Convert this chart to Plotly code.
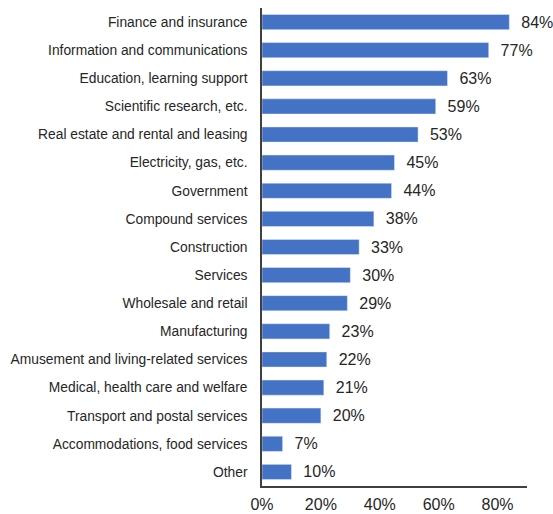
import plotly.graph_objects as go

categories = [
    "Finance and insurance",
    "Information and communications",
    "Education, learning support",
    "Scientific research, etc.",
    "Real estate and rental and leasing",
    "Electricity, gas, etc.",
    "Government",
    "Compound services",
    "Construction",
    "Services",
    "Wholesale and retail",
    "Manufacturing",
    "Amusement and living-related services",
    "Medical, health care and welfare",
    "Transport and postal services",
    "Accommodations, food services",
    "Other",
]
values = [84, 77, 63, 59, 53, 45, 44, 38, 33, 30, 29, 23, 22, 21, 20, 7, 10]
tick_vals = [0, 20, 40, 60, 80]
tick_text = ["0%", "20%", "40%", "60%", "80%"]

fig = go.Figure(
    go.Bar(
        x=values,
        y=categories,
        orientation="h",
        marker=dict(color="#4472C4"),
        text=[f"{v}%" for v in values],
        texttemplate="  %{text}",
        textposition="outside",
        constraintext="none",
        textfont=dict(family="Liberation Sans, Arial", size=16, color="#262626"),
        cliponaxis=False,
    )
)

fig.update_layout(
    width=553,
    height=514,
    margin=dict(l=262, r=26, t=8, b=28),
    paper_bgcolor="white",
    plot_bgcolor="white",
    bargap=0.46,
    showlegend=False,
    font=dict(family="Liberation Sans, Arial", color="#262626"),
)
fig.update_xaxes(
    range=[0, 90],
    tickvals=tick_vals,
    ticktext=tick_text,
    showgrid=False,
    zeroline=False,
    showline=True,
    linecolor="#404040",
    linewidth=1.5,
    ticks="",
    tickfont=dict(size=16, color="#262626"),
    ticklabelstandoff=3,
    automargin=False,
)
fig.update_yaxes(
    categoryorder="array",
    categoryarray=categories[::-1],
    showgrid=False,
    showline=True,
    linecolor="#404040",
    linewidth=1.5,
    ticks="",
    tickfont=dict(size=13.8, color="#262626"),
    ticklabelstandoff=10,
    automargin=False,
)

fig.write_html("out.html")
